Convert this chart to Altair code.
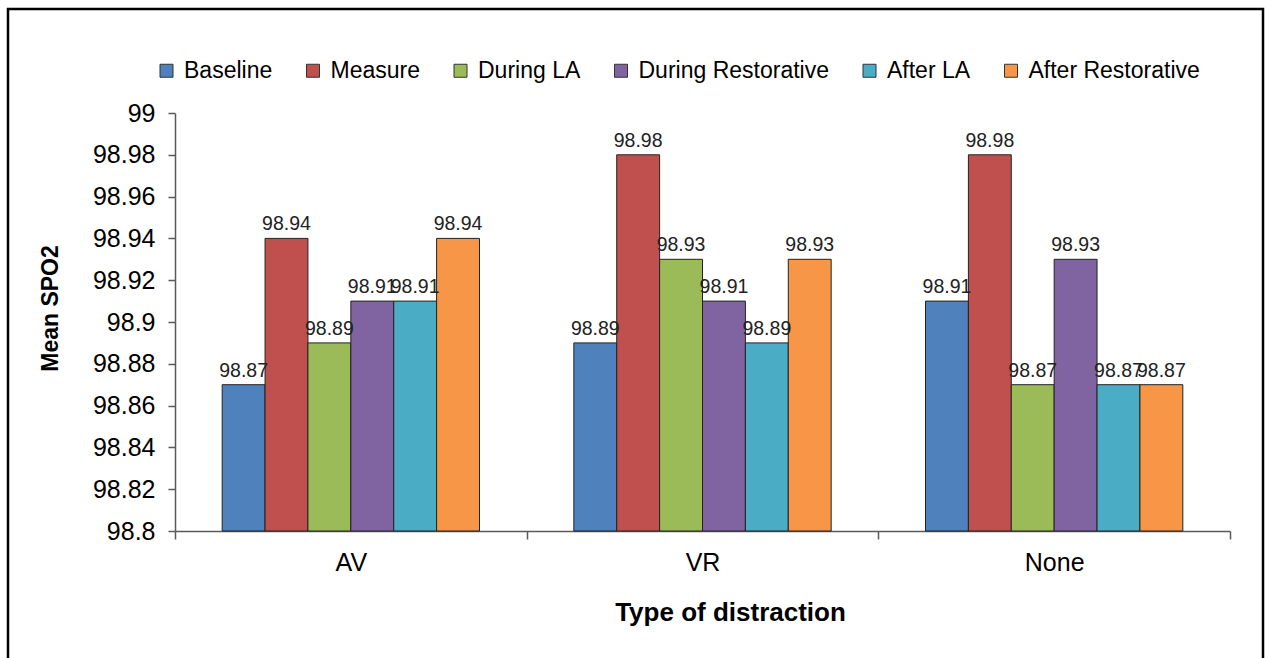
import altair as alt
import pandas as pd

categories = ["AV", "VR", "None"]
series = ["Baseline", "Measure", "During LA", "During Restorative", "After LA", "After Restorative"]
colors = ["#4F81BD", "#C0504D", "#9BBB59", "#8064A2", "#4BACC6", "#F79646"]
av_values = [98.87, 98.94, 98.89, 98.91, 98.91, 98.94]
vr_values = [98.89, 98.98, 98.93, 98.91, 98.89, 98.93]
none_values = [98.91, 98.98, 98.87, 98.93, 98.87, 98.87]
y_ticks = [98.8, 98.82, 98.84, 98.86, 98.88, 98.9, 98.92, 98.94, 98.96, 98.98, 99.0]

rows = []
for cat, vals in zip(categories, [av_values, vr_values, none_values]):
    for s, v in zip(series, vals):
        rows.append({"cat": cat, "series": s, "value": v, "label": f"{v:g}"})
df = pd.DataFrame(rows)

FONT = "Liberation Sans"
# offset domain with empty gap slots either side of each group
offset_domain = ["_gapL"] + series + ["_gapR"]

x_enc = alt.X(
    "cat:N", sort=categories,
    scale=alt.Scale(paddingInner=0, paddingOuter=0),
    axis=alt.Axis(
        title="Type of distraction", tickBand="extent", labelAngle=0,
        labelFontSize=25, labelPadding=11, tickSize=8,
        titleFontSize=26, titleFontWeight="bold",
        titleX=555, titleY=89, titleBaseline="alphabetic", titleAlign="center",
    ),
)
xoff_enc = alt.XOffset("series:N",
                       scale=alt.Scale(domain=offset_domain, paddingOuter=0.1, paddingInner=0))
y_enc = alt.Y(
    "value:Q",
    scale=alt.Scale(domain=[98.8, 99.0], zero=False, nice=False),
    axis=alt.Axis(
        title="Mean SPO2", values=y_ticks, format="~g",
        labelFontSize=25, labelPadding=13, tickSize=7,
        titleFontSize=23, titleFontWeight="bold",
        titleX=-125, titleY=195, titleAngle=270, titleBaseline="middle", titleAlign="center",
    ),
)

base = alt.Chart(df)

bars = base.mark_bar(stroke="#222222", strokeWidth=1).encode(
    x=x_enc,
    xOffset=xoff_enc,
    y=y_enc,
    y2=alt.datum(98.8),
    color=alt.Color(
        "series:N", sort=series,
        scale=alt.Scale(domain=series, range=colors),
        legend=alt.Legend(
            title=None, orient="none", legendX=-20, legendY=-54,
            direction="horizontal", columns=6,
            symbolType="square", symbolSize=169, symbolStrokeColor="#333333",
            symbolStrokeWidth=1, symbolOpacity=1,
            labelFontSize=23, labelOffset=6, columnPadding=28.5, labelLimit=400,
            labelFont=FONT, labelColor="#000000",
        ),
    ),
)

text = base.mark_text(dy=-8, baseline="alphabetic", fontSize=19.5, font=FONT, color="#222222").encode(
    x=alt.X("cat:N", sort=categories),
    xOffset=alt.XOffset("series:N"),
    y=alt.Y("value:Q"),
    text="label:N",
)

border = alt.Chart(pd.DataFrame({"k": [0]})).mark_rect(
    fillOpacity=0, stroke="#000000", strokeWidth=2.5
).encode(
    x=alt.value(-167), x2=alt.value(1088), y=alt.value(-104), y2=alt.value(600)
)

chart = alt.layer(border, bars, text).properties(
    width=1055, height=418,
    padding={"left": 175, "top": 113, "right": 41, "bottom": 127},
    autosize="none",
).configure_view(stroke="transparent").configure_axis(
    labelFont=FONT, titleFont=FONT, labelColor="#000000", titleColor="#000000",
    domainColor="#5a5a5a", tickColor="#5a5a5a", domainWidth=1.5, tickWidth=1.5, grid=False,
)

chart.save("out.html", embed_options={"renderer": "svg", "actions": False})
